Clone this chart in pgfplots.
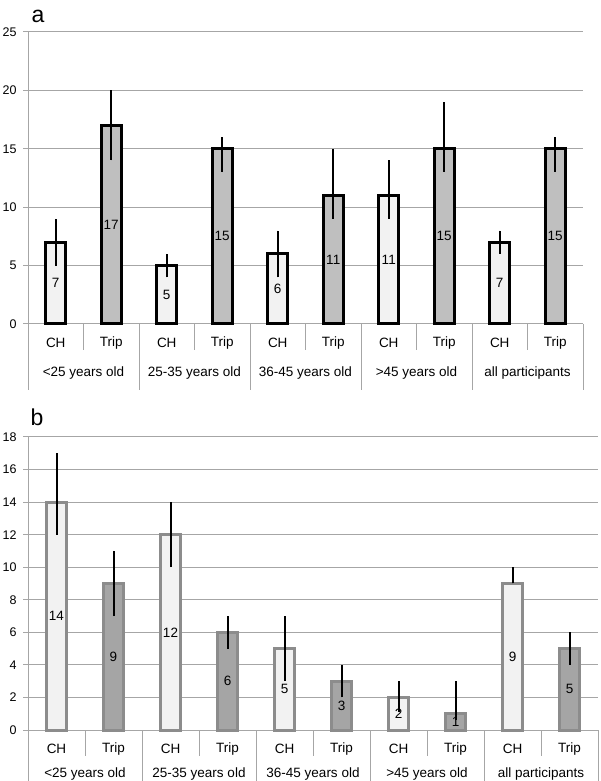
\documentclass[border=0pt]{standalone}
\usepackage{pgfplots}
\pgfplotsset{compat=1.18}
\usepackage{pgfplotstable}
\usepackage{fontspec}
\setmainfont{Liberation Sans}
\definecolor{gridc}{HTML}{A6A6A6}
\definecolor{chfill}{HTML}{F2F2F2}
\definecolor{tripa}{HTML}{BFBFBF}
\definecolor{tripb}{HTML}{A5A5A5}
\definecolor{edgeb}{HTML}{8C8C8C}
\pgfplotstableread{
x y ep em
0 7 2 2
2 5 1 1
4 6 2 2
6 11 3 2
8 7 1 1
}\aCH
\pgfplotstableread{
x y ep em
1 17 3 3
3 15 1 2
5 11 4 2
7 15 4 2
9 15 1 2
}\aTrip
\pgfplotstableread{
x y ep em
0 14 3 2
2 12 2 2
4 5 2 2
6 2 1 0.9
8 9 1 0
}\bCH
\pgfplotstableread{
x y ep em
1 9 2 2
3 6 1 1
5 3 1 1
7 1 2 0.4
9 5 1 1
}\bTrip
\tikzset{grp/.style={font=\fontsize{13.5}{15}\selectfont, anchor=center}}
\pgfplotsset{
  panel/.style={
    scale only axis, ybar, bar width=20pt, bar shift=0pt,
    xmin=-0.5, xmax=9.5, ymin=0,
    axis lines=left, axis line style={gridc, line width=1pt, -},
    ymajorgrids, grid style={gridc, line width=1pt},
    xtick={0,...,9}, xticklabels={CH,Trip,CH,Trip,CH,Trip,CH,Trip,CH,Trip},
    x tick style={draw=none},
    y tick style={gridc, line width=1pt}, tick align=outside, major tick length=5pt,
    yticklabel style={font=\fontsize{12.5}{14}\selectfont, xshift=-3pt},
    xticklabel style={font=\fontsize{13.5}{15}\selectfont, anchor=center, yshift=-14pt},
    /pgf/number format/assume math mode=true,
    clip=false,
    error bars/y dir=both, error bars/y explicit,
    error bars/error mark=none,
    error bars/error bar style={black, line width=2pt},
  },
  vals/.style={
    nodes near coords,
    visualization depends on={rawy \as \rawy},
    every node near coord/.append style={anchor=center, black,
      font=\fontsize{13.5}{15}\selectfont, yshift=-\rawy*#1},
  },
}
\begin{document}
\begin{tikzpicture}
\useasboundingbox (0,0) rectangle (600pt,781pt);
% panel a
\begin{axis}[panel, at={(28pt,457pt)}, anchor=south west,
  width=555pt, height=292pt, ymax=25, ytick={0,5,...,25}]
\addplot[vals=5.84pt, fill=chfill, draw=black, line width=3pt]
  table[x=x, y=y, y error plus=ep, y error minus=em] {\aCH};
\addplot[vals=5.84pt, fill=tripa, draw=black, line width=3pt]
  table[x=x, y=y, y error plus=ep, y error minus=em] {\aTrip};
\pgfplotsinvokeforeach{-0.5,1.5,3.5,5.5,7.5,9.5}{
  \draw[gridc, line width=1pt] (axis cs:#1,0) -- ++(0pt,-66pt);
}
\pgfplotsinvokeforeach{0.5,2.5,4.5,6.5,8.5}{
  \draw[gridc, line width=1pt] (axis cs:#1,0) -- ++(0pt,-26pt);
}
\node[grp] at ([yshift=-49pt]axis cs:0.5,0) {<25 years old};
\node[grp] at ([yshift=-49pt]axis cs:2.5,0) {25-35 years old};
\node[grp] at ([yshift=-49pt]axis cs:4.5,0) {36-45 years old};
\node[grp] at ([yshift=-49pt]axis cs:6.5,0) {>45 years old};
\node[grp] at ([yshift=-49pt]axis cs:8.5,0) {all participants};
\end{axis}
% panel b
\begin{axis}[panel, at={(28pt,51pt)}, anchor=south west,
  width=570pt, height=293pt, ymax=18, ytick={0,2,...,18}]
\addplot[vals=8.14pt, fill=chfill, draw=edgeb, line width=3pt]
  table[x=x, y=y, y error plus=ep, y error minus=em] {\bCH};
\addplot[vals=8.14pt, fill=tripb, draw=edgeb, line width=3pt]
  table[x=x, y=y, y error plus=ep, y error minus=em] {\bTrip};
\pgfplotsinvokeforeach{-0.5,1.5,3.5,5.5,7.5,9.5}{
  \draw[gridc, line width=1pt] (axis cs:#1,0) -- ++(0pt,-52pt);
}
\pgfplotsinvokeforeach{0.5,2.5,4.5,6.5,8.5}{
  \draw[gridc, line width=1pt] (axis cs:#1,0) -- ++(0pt,-26pt);
}
\node[grp] at ([yshift=-44pt]axis cs:0.5,0) {<25 years old};
\node[grp] at ([yshift=-44pt]axis cs:2.5,0) {25-35 years old};
\node[grp] at ([yshift=-44pt]axis cs:4.5,0) {36-45 years old};
\node[grp] at ([yshift=-44pt]axis cs:6.5,0) {>45 years old};
\node[grp] at ([yshift=-44pt]axis cs:8.5,0) {all participants};
\end{axis}
\node[font=\fontsize{23}{26}\selectfont] at (38pt,765pt) {a};
\node[font=\fontsize{23}{26}\selectfont] at (37pt,364pt) {b};
\end{tikzpicture}
\end{document}
